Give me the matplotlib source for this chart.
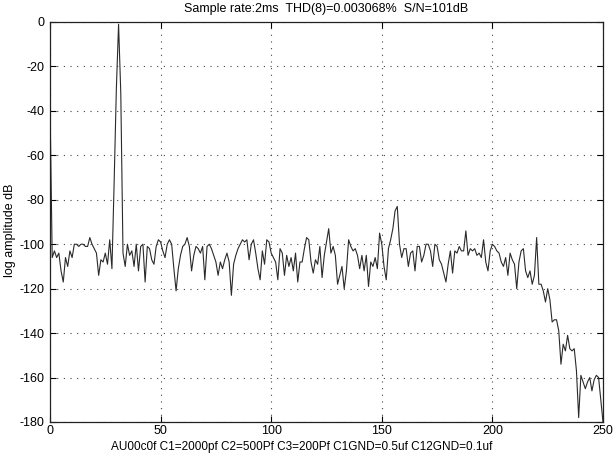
import matplotlib
matplotlib.use("Agg")
import matplotlib.pyplot as plt
import numpy as np

plt.rcParams['font.family'] = ['Liberation Sans', 'DejaVu Sans']
plt.rcParams['axes.unicode_minus'] = False

title_text = "Sample rate:2ms  THD(8)=0.003068%  S/N=101dB"
xlabel_text = "AU00c0f C1=2000pf C2=500Pf C3=200Pf C1GND=0.5uf C12GND=0.1uf"
ylabel_text = "log amplitude dB"

x_ticks = [0, 50, 100, 150, 200, 250]
y_ticks = [0, -20, -40, -60, -80, -100, -120, -140, -160, -180]

frequency = list(range(0, 251))
amplitude_db = [
    -37, -106, -103, -106, -104, -112, -117, -106, -110, -103,
    -106, -100, -100, -101, -100, -100, -101, -101, -97, -100,
    -102, -104, -114, -107, -108, -104, -109, -98, -111, -72,
    -30, -1, -32, -104, -110, -100, -105, -103, -110, -100,
    -112, -101, -100, -117, -101, -102, -107, -109, -101, -98,
    -99, -103, -106, -100, -98, -100, -111, -121, -111, -105,
    -101, -100, -97, -101, -112, -105, -101, -102, -104, -101,
    -116, -101, -100, -102, -105, -108, -114, -108, -111, -107,
    -104, -108, -123, -109, -105, -102, -100, -98, -99, -98,
    -107, -100, -98, -104, -111, -116, -103, -109, -98, -99,
    -104, -106, -108, -116, -102, -104, -114, -105, -110, -106,
    -112, -104, -117, -108, -108, -102, -97, -98, -108, -113,
    -107, -109, -101, -115, -105, -99, -93, -104, -101, -105,
    -118, -114, -110, -120, -112, -98, -101, -103, -102, -105,
    -111, -105, -112, -105, -119, -108, -110, -106, -111, -95,
    -100, -110, -116, -102, -98, -93, -85, -83, -100, -106,
    -102, -102, -110, -104, -103, -112, -101, -101, -108, -105,
    -100, -100, -103, -110, -100, -101, -107, -109, -113, -117,
    -109, -103, -113, -103, -104, -101, -103, -103, -94, -105,
    -102, -103, -102, -105, -104, -106, -98, -108, -112, -103,
    -100, -101, -103, -104, -108, -110, -106, -114, -104, -107,
    -109, -120, -108, -103, -102, -112, -115, -112, -118, -114,
    -97, -118, -118, -121, -126, -120, -125, -135, -134, -134,
    -139, -154, -145, -148, -141, -147, -148, -147, -157, -178,
    -159, -162, -165, -162, -160, -166, -161, -159, -160, -170,
    -180,
]

fig = plt.figure(figsize=(6.15, 4.54), dpi=100)
ax = fig.add_axes([50 / 615, 1 - 422 / 454, 553 / 615, 400 / 454])

ax.plot(frequency, amplitude_db, color='#2a2a2a', linewidth=0.8)

ax.set_xlim(0, 250)
ax.set_ylim(-180, 0)
ax.set_xticks(x_ticks)
ax.set_yticks(y_ticks)
ax.grid(True, color='#444444', linestyle=(0, (1, 5)), linewidth=0.8)
ax.tick_params(direction='in', top=True, right=True, length=4, width=0.8,
               labelsize=9, colors='black')
ax.tick_params(axis='x', pad=2)
ax.tick_params(axis='y', pad=4)
for s in ax.spines.values():
    s.set_linewidth(0.9)
    s.set_color('#222222')

ax.set_title(title_text, fontsize=9, pad=7)
ax.set_xlabel(xlabel_text, fontsize=8.5)
ax.xaxis.set_label_coords(0.456, -0.047)
ax.set_ylabel(ylabel_text, fontsize=9)
ax.yaxis.set_label_coords(-0.062, 0.48)

fig.savefig("out.png", dpi=100)
